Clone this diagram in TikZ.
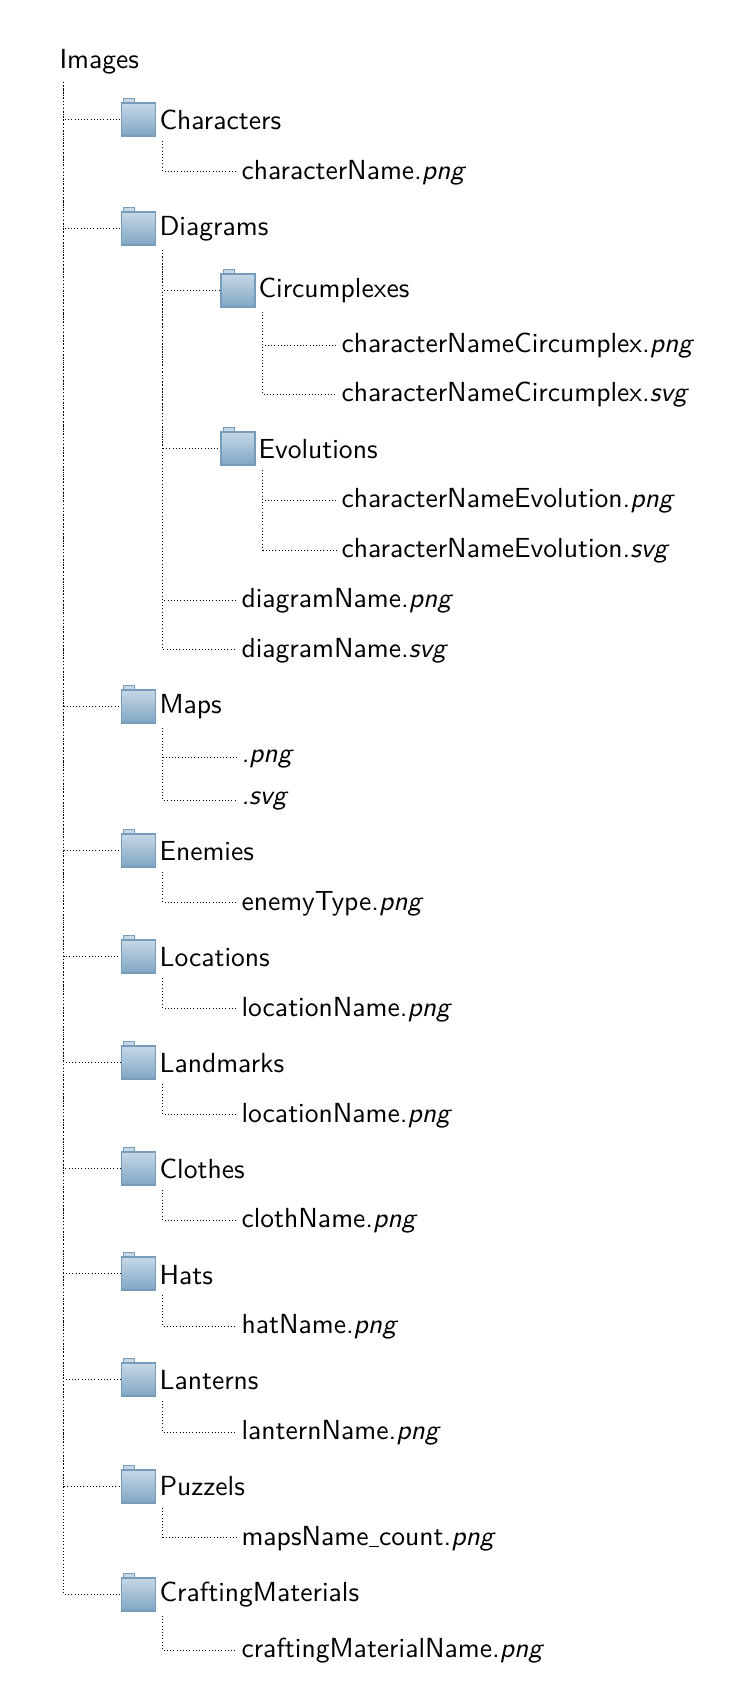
\documentclass[tikz,border=0pt]{standalone}
\usepackage{tikz}

\definecolor{folderline}{RGB}{118,156,186}
\definecolor{foldertop}{RGB}{198,216,230}
\definecolor{folderbot}{RGB}{128,166,196}

\tikzset{
  folder/.style={draw=folderline,line width=.9pt,top color=foldertop,bottom color=folderbot,
    minimum width=25.4pt,minimum height=24.8pt,inner sep=0pt},
  foldertab/.style={draw=folderline,line width=.7pt,fill=foldertop},
  entry/.style={anchor=base west,inner sep=0pt,scale=2.07,font=\sffamily},
  stem/.style={dotted,line width=.4pt},
  trunk/.style={dotted,line width=.8pt}
}

\begin{document}
\begin{tikzpicture}[x=.75pt,y=-.75pt]
  \useasboundingbox (0,0) rectangle (738,1704);

  \node[entry] (images) at (59,68) {Images};
  \coordinate (imagesend) at (63.5,82);
  \coordinate (imagesfoot) at (63.5,1486);
  \coordinate (diagramsfoot) at (162.5,448);

  % folders of the first level
  \foreach \name/\lab/\ypos/\ybase in {characters/Characters/119/129, diagrams/Diagrams/228/235,
        maps/Maps/706/713, enemies/Enemies/850/860, locations/Locations/956/966,
        landmarks/Landmarks/1062/1072, clothes/Clothes/1168/1178, hats/Hats/1273/1284,
        lanterns/Lanterns/1379/1389, puzzels/Puzzels/1486/1495, crafting/CraftingMaterials/1594/1601} {
    \coordinate (\name-in) at (121,\ypos);
    \coordinate (\name-stem) at (162.5,\ypos+22);
    \draw[stem] (imagesend) |- (\name-in);
    \draw[foldertab] (123,\ypos-21) rectangle (134,\ypos-15);
    \node[folder] (\name) at (138.5,\ypos+.5) {};
    \node[entry] (\name-text) at (159,\ybase) {\lab};
  }

  % folders of the second level
  \foreach \name/\lab/\ypos/\ybase in {circumplexes/Circumplexes/290/297, evolutions/Evolutions/448/458} {
    \coordinate (\name-in) at (221,\ypos);
    \coordinate (\name-stem) at (262.5,\ypos+22);
    \draw[stem] (diagrams-stem) |- (\name-in);
    \draw[foldertab] (223,\ypos-21) rectangle (234,\ypos-15);
    \node[folder] (\name) at (238,\ypos+.5) {};
    \node[entry] (\name-text) at (258,\ybase) {\lab};
  }

  % files
  \foreach \name/\from/\lab/\ypos/\ybase in {charfile/characters/characterName.\textit{png}/171/179,
        diapng/diagrams/diagramName.\textit{png}/600/607, diasvg/diagrams/diagramName.\textit{svg}/649/657,
        mappng/maps/\textit{.png}/757/762, mapsvg/maps/\textit{.svg}/800/804,
        enemyfile/enemies/enemyType.\textit{png}/902/910, locfile/locations/locationName.\textit{png}/1008/1016,
        landfile/landmarks/locationName.\textit{png}/1114/1122, clothfile/clothes/clothName.\textit{png}/1220/1227,
        hatfile/hats/hatName.\textit{png}/1326/1333, lanternfile/lanterns/lanternName.\textit{png}/1432/1439,
        puzfile/puzzels/mapsName\kern.02em\rule[-.08em]{.34em}{.05em}\kern.02em count.\textit{png}/1537/1545, craftfile/crafting/craftingMaterialName.\textit{png}/1650/1657} {
    \node[entry] (\name) at (241,\ybase) {\lab};
    \coordinate (\name-end) at (237,\ypos);
    \draw[stem] (\from-stem) |- (\name-end);
  }
  \foreach \name/\from/\lab/\ypos/\ybase in {circpng/circumplexes/characterNameCircumplex.\textit{png}/345/352,
        circsvg/circumplexes/characterNameCircumplex.\textit{svg}/394/401,
        evopng/evolutions/characterNameEvolution.\textit{png}/500/507,
        evosvg/evolutions/characterNameEvolution.\textit{svg}/550/557} {
    \node[entry] (\name) at (341,\ybase) {\lab};
    \coordinate (\name-end) at (337,\ypos);
    \draw[stem] (\from-stem) |- (\name-end);
  }

  \draw[trunk] (imagesend) -- (imagesfoot);
  \draw[stem,line width=.6pt] (diagrams-stem) -- (diagramsfoot);
\end{tikzpicture}
\end{document}
